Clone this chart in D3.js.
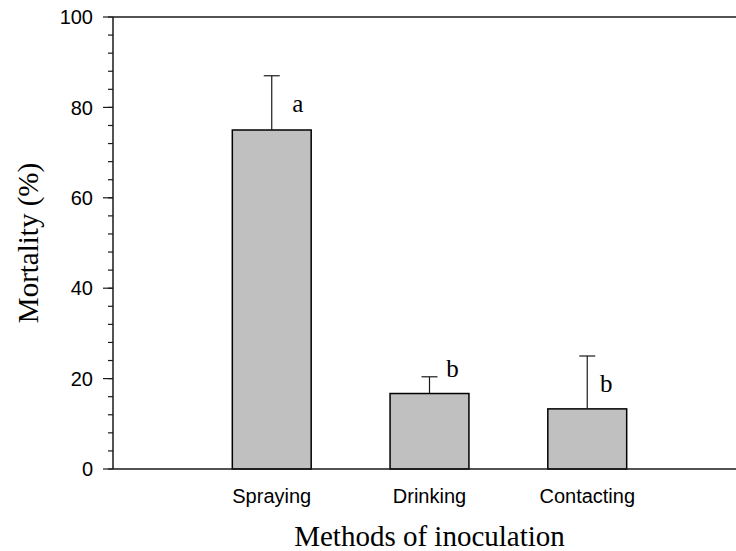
<!DOCTYPE html>
<html>
<head>
<meta charset="utf-8">
<script src="https://cdn.jsdelivr.net/npm/d3@7"></script>
<style>
  body { margin: 0; background: #fff; }
  svg { display: block; }
</style>
</head>
<body>
<svg id="chart" width="736" height="551"></svg>
<script>
// Mortality by inoculation method, mean with upper error bar and significance letter
const methods = ["Spraying", "Drinking", "Contacting"];
const mortality = [75.0, 16.7, 13.3];
const errorTop = [87.0, 20.4, 25.0];
const letters = ["a", "b", "b"];
const yTicks = [0, 20, 40, 60, 80, 100];
const yMinorTicks = d3.range(0, 101, 4);

const svg = d3.select("#chart");
const plotLeft = 113, plotTop = 17, plotBottom = 469;

const x = d3.scaleLinear().domain([0, 4]).range([114, 745]);
const y = d3.scaleLinear().domain([0, 100]).range([plotBottom, plotTop]);
const barW = (x(1) - x(0)) * 0.5;
const ink = "#1a1a1a";
const serif = "'Liberation Serif', 'Times New Roman', serif";
const sans = "'Liberation Sans', Arial, sans-serif";

// frame line along the top
svg.append("line").attr("x1", plotLeft).attr("x2", 736).attr("y1", plotTop).attr("y2", plotTop)
  .attr("stroke", ink).attr("stroke-width", 1.5);

// bars
svg.selectAll("rect.bar").data(methods).enter().append("rect")
  .attr("class", "bar")
  .attr("x", (d, i) => x(i + 1) - barW / 2)
  .attr("width", barW)
  .attr("y", (d, i) => y(mortality[i]))
  .attr("height", (d, i) => y(0) - y(mortality[i]))
  .attr("fill", "#c0c0c0")
  .attr("stroke", "#000")
  .attr("stroke-width", 1.5);

// error bars (upper only) with significance letters
const capW = 16;
const letterDx = [26, 23, 19];
methods.forEach((m, i) => {
  const cx = x(i + 1);
  svg.append("line").attr("x1", cx).attr("x2", cx)
    .attr("y1", y(mortality[i])).attr("y2", y(errorTop[i]))
    .attr("stroke", ink).attr("stroke-width", 1.2);
  svg.append("line").attr("x1", cx - capW / 2).attr("x2", cx + capW / 2)
    .attr("y1", y(errorTop[i])).attr("y2", y(errorTop[i]))
    .attr("stroke", ink).attr("stroke-width", 1.2);
  svg.append("text")
    .attr("x", cx + letterDx[i])
    .attr("y", y(errorTop[i]) + (i === 1 ? 0 : 36))
    .attr("text-anchor", "middle")
    .attr("font-family", serif)
    .attr("font-size", 25)
    .attr("fill", "#000")
    .text(letters[i]);
});

// y axis
const yAxis = svg.append("g").attr("transform", `translate(${plotLeft},0)`);
yAxis.append("line").attr("x1", 0).attr("x2", 0).attr("y1", plotTop).attr("y2", plotBottom)
  .attr("stroke", ink).attr("stroke-width", 1.5);
yAxis.selectAll("line.minor").data(yMinorTicks).enter().append("line")
  .attr("class", "minor")
  .attr("x1", -5).attr("x2", 0)
  .attr("y1", d => y(d)).attr("y2", d => y(d))
  .attr("stroke", ink).attr("stroke-width", 1.2);
yAxis.selectAll("line.major").data(yTicks).enter().append("line")
  .attr("class", "major")
  .attr("x1", -10).attr("x2", 0)
  .attr("y1", d => y(d)).attr("y2", d => y(d))
  .attr("stroke", ink).attr("stroke-width", 1.2);
yAxis.selectAll("text").data(yTicks).enter().append("text")
  .attr("x", -20)
  .attr("y", d => y(d))
  .attr("dy", "0.36em")
  .attr("text-anchor", "end")
  .attr("font-family", sans)
  .attr("font-size", 20)
  .attr("fill", "#000")
  .text(d => d);

// x axis baseline
svg.append("line").attr("x1", plotLeft).attr("x2", 736).attr("y1", plotBottom).attr("y2", plotBottom)
  .attr("stroke", ink).attr("stroke-width", 1.5);

// category labels
svg.selectAll("text.cat").data(methods).enter().append("text")
  .attr("class", "cat")
  .attr("x", (d, i) => x(i + 1))
  .attr("y", 503)
  .attr("text-anchor", "middle")
  .attr("font-family", sans)
  .attr("font-size", 20)
  .attr("fill", "#000")
  .text(d => d);

// axis titles
svg.append("text")
  .attr("x", x(2))
  .attr("y", 546)
  .attr("text-anchor", "middle")
  .attr("font-family", serif)
  .attr("font-size", 29)
  .attr("fill", "#000")
  .text("Methods of inoculation");

svg.append("text")
  .attr("transform", `translate(38,${(plotTop + plotBottom) / 2}) rotate(-90)`)
  .attr("text-anchor", "middle")
  .attr("font-family", serif)
  .attr("font-size", 29)
  .attr("fill", "#000")
  .text("Mortality (%)");
</script>
</body>
</html>
